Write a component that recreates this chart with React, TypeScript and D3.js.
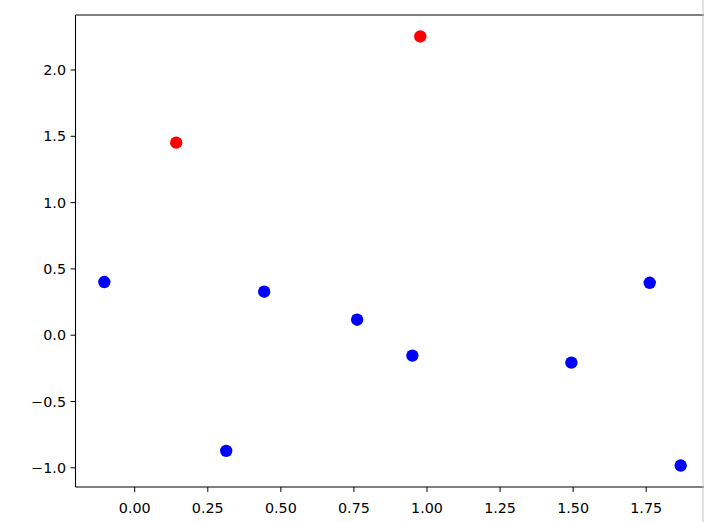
import React from "react";
import * as d3 from "d3";

const xValues = [-0.104, 0.142, 0.313, 0.443, 0.761, 0.95, 0.977, 1.494, 1.762, 1.868];
const yValues = [0.401, 1.452, -0.872, 0.328, 0.117, -0.154, 2.253, -0.207, 0.395, -0.983];
const pointColors = ["blue", "red", "blue", "blue", "blue", "blue", "red", "blue", "blue", "blue"];
const xTicks = [0, 0.25, 0.5, 0.75, 1.0, 1.25, 1.5, 1.75];
const yTicks = [-1.0, -0.5, 0.0, 0.5, 1.0, 1.5, 2.0];

const W = 704;
const H = 522;
const left = 75.5;
const top = 15;
const bottom = 487;
const right = 709.5;

export default function App() {
  const xMin = d3.min(xValues)!;
  const xMax = d3.max(xValues)!;
  const yMin = d3.min(yValues)!;
  const yMax = d3.max(yValues)!;
  const xm = (xMax - xMin) * 0.05;
  const ym = (yMax - yMin) * 0.05;
  const x = d3.scaleLinear().domain([xMin - xm, xMax + xm]).range([left, right]);
  const y = d3.scaleLinear().domain([yMin - ym, yMax + ym]).range([bottom, top]);
  const fmt = (v: number, d: number) => v.toFixed(d).replace("-", "\u2212");
  const font = "DejaVu Sans, sans-serif";
  return (
    <svg width={W} height={H} style={{ position: "absolute", left: 0, top: 0, background: "white" }}>
      <rect x={0} y={0} width={W} height={H} fill="white" />
      {xValues.map((xv, i) => (
        <circle key={i} cx={x(xv)} cy={y(yValues[i])} r={6.2} fill={pointColors[i]} />
      ))}
      <g stroke="black" strokeWidth={1.1} fill="none">
        <line x1={left} y1={top} x2={right} y2={top} />
        <line x1={left} y1={top} x2={left} y2={bottom} />
        <line x1={left} y1={bottom} x2={right} y2={bottom} />
        <line x1={right} y1={top} x2={right} y2={bottom} />
      </g>
      {yTicks.map((t) => (
        <g key={"y" + t}>
          <line x1={left - 4.9} x2={left} y1={y(t)} y2={y(t)} stroke="black" strokeWidth={1} />
          <text x={left - 9.5} y={y(t)} dy="0.36em" textAnchor="end" fontFamily={font} fontSize={14.3} fill="#000">
            {fmt(t, 1)}
          </text>
        </g>
      ))}
      {xTicks.map((t) => (
        <g key={"x" + t}>
          <line x1={x(t)} x2={x(t)} y1={bottom} y2={bottom + 4.9} stroke="black" strokeWidth={1} />
          <text x={x(t)} y={bottom + 25.5} textAnchor="middle" fontFamily={font} fontSize={14.3} fill="#000">
            {fmt(t, 2)}
          </text>
        </g>
      ))}
      <line x1={703} x2={703} y1={0} y2={H} stroke="#c8c8c8" strokeWidth={1} />
    </svg>
  );
}
